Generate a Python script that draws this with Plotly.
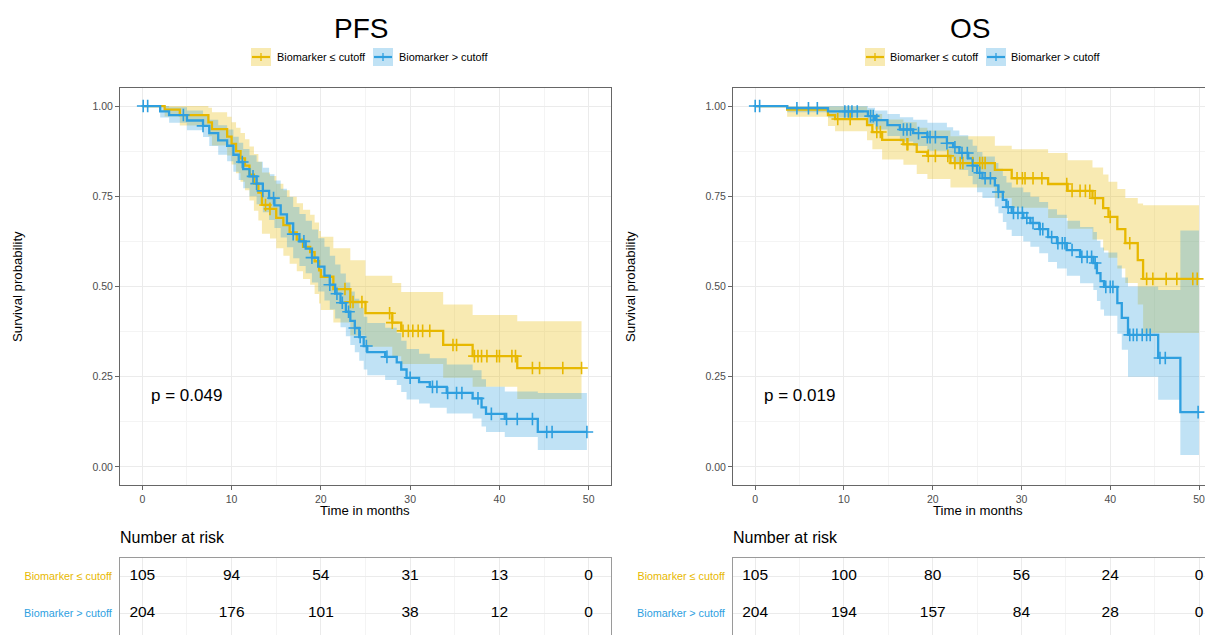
import plotly.graph_objects as go

# the page body has an 8px default margin, so the figure is 8px smaller and all
# reference pixel positions are shifted by -8
OFF = 8
W, H = 1213 - OFF, 635 - OFF
YEL = "#E7B800"
BLU = "#2E9FDF"
YEL_FILL = "rgba(231,184,0,0.30)"
BLU_FILL = "rgba(46,159,223,0.30)"
FONT = "Liberation Sans, Arial, sans-serif"

group_labels = ["Biomarker \u2264 cutoff", "Biomarker > cutoff"]
panel_titles = ["PFS", "OS"]
p_values = ["p = 0.049", "p = 0.019"]

# ---------------- PFS, Biomarker <= cutoff ----------------
pfs_low_t = [0, 2.5, 4.2, 7.4, 7.8, 9.5, 10.0, 10.5, 11.0, 11.5, 12.0, 12.5, 13.0, 13.4, 14.3, 15.0, 15.8, 16.5, 17.3, 18.0,
             18.8, 19.3, 19.8, 20.0, 21.4, 23.3, 25.0, 28.0, 29.0, 33.7, 37.0, 42.0]
pfs_low_s = [1.0, 0.99, 0.975, 0.955, 0.936, 0.915, 0.895, 0.875, 0.855, 0.835, 0.81, 0.785, 0.76, 0.726, 0.715, 0.69, 0.67, 0.65, 0.63, 0.61,
             0.595, 0.57, 0.545, 0.527, 0.493, 0.457, 0.426, 0.40, 0.377, 0.338, 0.307, 0.274]
pfs_low_lo = [1.0, 0.971, 0.946, 0.916, 0.891, 0.863, 0.838, 0.814, 0.79, 0.767, 0.738, 0.71, 0.683, 0.646, 0.633, 0.606, 0.585, 0.563, 0.542, 0.521,
              0.505, 0.479, 0.453, 0.435, 0.40, 0.364, 0.333, 0.307, 0.285, 0.247, 0.222, 0.188]
pfs_low_hi = [1.0, 1.0, 1.0, 0.995, 0.983, 0.97, 0.955, 0.94, 0.925, 0.908, 0.888, 0.867, 0.846, 0.816, 0.806, 0.785, 0.767, 0.749, 0.731, 0.713,
              0.699, 0.677, 0.654, 0.638, 0.606, 0.573, 0.53, 0.51, 0.485, 0.45, 0.421, 0.404]
pfs_low_end = 49.2
pfs_low_cens = [13.8, 14.3, 22.7, 23.3, 23.6, 24.6, 27.7, 28.0, 29.2, 29.8, 30.3, 30.9, 31.4, 32.2, 34.8, 35.2, 37.2, 37.6, 38.0, 38.6,
                39.7, 40.0, 41.4, 41.8, 43.7, 44.5, 47.1, 49.2]

# ---------------- PFS, Biomarker > cutoff ----------------
pfs_high_t = [0, 2.0, 3.0, 5.0, 6.8, 7.5, 8.5, 9.5, 10.2, 10.8, 11.3, 12.0, 12.8, 13.5, 14.2, 14.8, 15.5, 16.2, 16.9, 17.6,
              18.3, 19.0, 19.7, 20.4, 21.0, 21.6, 22.2, 22.8, 23.3, 23.8, 24.3, 24.8, 25.2, 27.2, 28.5, 29.0, 29.6, 31.0, 32.2, 34.1,
              37.0, 38.0, 38.5, 40.6, 44.3]
pfs_high_s = [1.0, 0.985, 0.975, 0.96, 0.945, 0.925, 0.905, 0.89, 0.865, 0.845, 0.825, 0.805, 0.785, 0.765, 0.745, 0.725, 0.70, 0.675, 0.645, 0.625,
              0.605, 0.58, 0.555, 0.53, 0.505, 0.48, 0.455, 0.43, 0.405, 0.385, 0.36, 0.335, 0.318, 0.305, 0.29, 0.27, 0.247, 0.235, 0.222, 0.205,
              0.19, 0.165, 0.147, 0.133, 0.097]
pfs_high_lo = [1.0, 0.968, 0.954, 0.933, 0.914, 0.889, 0.865, 0.847, 0.818, 0.795, 0.772, 0.75, 0.728, 0.706, 0.684, 0.662, 0.636, 0.609, 0.578, 0.557,
               0.537, 0.511, 0.486, 0.461, 0.436, 0.411, 0.387, 0.362, 0.338, 0.318, 0.294, 0.27, 0.254, 0.241, 0.227, 0.208, 0.187, 0.176, 0.164, 0.148,
               0.134, 0.112, 0.097, 0.083, 0.047]
pfs_high_hi = [1.0, 1.0, 0.997, 0.988, 0.977, 0.962, 0.947, 0.935, 0.915, 0.898, 0.881, 0.864, 0.846, 0.829, 0.811, 0.794, 0.771, 0.748, 0.72, 0.701,
               0.682, 0.658, 0.634, 0.61, 0.585, 0.561, 0.536, 0.511, 0.486, 0.466, 0.441, 0.416, 0.399, 0.386, 0.371, 0.35, 0.327, 0.314, 0.301, 0.284,
               0.268, 0.243, 0.222, 0.209, 0.205]
pfs_high_end = 49.8
pfs_high_cens = [0.1, 0.6, 4.6, 6.8, 11.2, 12.4, 12.8, 13.5, 14.7, 16.9, 18.1, 19.0, 21.0, 21.8, 22.4, 23.1, 23.8, 24.4, 25.1, 27.4,
                 30.0, 32.5, 33.0, 34.2, 35.2, 35.8, 37.6, 39.1, 40.8, 42.0, 43.7, 45.3, 45.9, 49.8]

# ---------------- OS, Biomarker <= cutoff ----------------
os_low_t = [0, 3.6, 8.2, 9.0, 12.6, 13.2, 14.3, 16.7, 18.2, 19.4, 22.0, 27.0, 28.9, 33.0, 35.2, 38.0, 39.2, 39.8, 40.8, 41.7, 43.1, 43.7]
os_low_s = [1.0, 0.99, 0.975, 0.964, 0.947, 0.928, 0.906, 0.894, 0.873, 0.862, 0.842, 0.823, 0.80, 0.784, 0.765, 0.745, 0.717, 0.693, 0.659, 0.62, 0.573, 0.521]
os_low_lo = [1.0, 0.97, 0.945, 0.93, 0.905, 0.88, 0.852, 0.837, 0.812, 0.798, 0.774, 0.745, 0.718, 0.69, 0.66, 0.63, 0.6, 0.58, 0.55, 0.51, 0.45, 0.371]
os_low_hi = [1.0, 1.0, 1.0, 0.999, 0.99, 0.978, 0.963, 0.955, 0.94, 0.932, 0.916, 0.89, 0.88, 0.87, 0.85, 0.83, 0.81, 0.79, 0.77, 0.745, 0.73, 0.725]
os_low_end = 50.0
os_low_cens = [9.3, 10.7, 13.7, 14.1, 17.1, 17.2, 19.5, 20.3, 21.7, 22.5, 23.1, 23.4, 24.5, 25.3, 25.6, 25.9, 29.5, 30.1, 30.4, 31.3,
               32.3, 35.1, 35.7, 36.6, 37.2, 37.7, 38.3, 40.0, 42.2, 44.1, 44.8, 46.3, 47.5, 49.3, 49.8]

# ---------------- OS, Biomarker > cutoff ----------------
os_high_t = [0, 3.6, 8.2, 12.7, 13.5, 14.9, 16.3, 17.8, 19.4, 21.6, 22.3, 23.0, 24.0, 24.5, 25.0, 25.6, 27.0, 27.4, 27.9, 28.3,
             28.9, 30.2, 31.0, 32.0, 33.0, 34.0, 35.1, 36.6, 38.1, 38.5, 38.9, 39.3, 40.8, 41.3, 42.0, 45.4, 47.9]
os_high_s = [1.0, 0.994, 0.985, 0.972, 0.961, 0.947, 0.935, 0.925, 0.914, 0.897, 0.886, 0.87, 0.855, 0.835, 0.815, 0.80, 0.78, 0.762, 0.74, 0.72,
             0.704, 0.69, 0.676, 0.659, 0.637, 0.62, 0.601, 0.582, 0.565, 0.537, 0.515, 0.499, 0.454, 0.413, 0.366, 0.302, 0.152]
os_high_lo = [1.0, 0.983, 0.968, 0.949, 0.935, 0.917, 0.902, 0.889, 0.876, 0.855, 0.842, 0.823, 0.806, 0.783, 0.761, 0.745, 0.722, 0.703, 0.679, 0.657,
              0.64, 0.625, 0.61, 0.592, 0.568, 0.55, 0.53, 0.509, 0.49, 0.46, 0.436, 0.419, 0.369, 0.325, 0.25, 0.186, 0.033]
os_high_hi = [1.0, 1.0, 1.0, 0.995, 0.988, 0.978, 0.969, 0.962, 0.954, 0.941, 0.932, 0.919, 0.907, 0.89, 0.873, 0.86, 0.842, 0.826, 0.806, 0.788,
              0.774, 0.761, 0.749, 0.734, 0.714, 0.699, 0.682, 0.665, 0.651, 0.627, 0.608, 0.594, 0.558, 0.525, 0.5, 0.49, 0.655]
os_high_end = 50.0
os_high_cens = [0.0, 0.5, 4.7, 6.0, 7.0, 10.1, 10.5, 10.9, 11.5, 13.0, 13.3, 13.7, 16.7, 17.1, 17.5, 18.4, 19.4, 19.7, 20.3, 21.6,
                22.5, 23.3, 23.9, 24.5, 25.3, 25.9, 26.5, 27.4, 28.5, 29.1, 29.6, 30.1, 30.6, 31.3, 32.1, 32.4, 33.4, 34.1, 34.6, 34.9,
                35.7, 36.8, 37.4, 37.9, 38.3, 39.5, 40.0, 40.3, 42.2, 42.6, 43.0, 43.6, 44.1, 44.5, 45.6, 46.2, 49.9]

# ---------------- Number at risk ----------------
risk_times = [0, 10, 20, 30, 40, 50]
pfs_risk_low = [105, 94, 54, 31, 13, 0]
pfs_risk_high = [204, 176, 101, 38, 12, 0]
os_risk_low = [105, 100, 80, 56, 24, 0]
os_risk_high = [204, 194, 157, 84, 28, 0]

x_ticks = [0, 10, 20, 30, 40, 50]
y_ticks = [0.0, 0.25, 0.5, 0.75, 1.0]
y_tick_text = ["0.00", "0.25", "0.50", "0.75", "1.00"]


def step_xy(t, s, t_end):
    xs, ys = [], []
    for i in range(len(t)):
        t_next = t[i + 1] if i + 1 < len(t) else t_end
        xs += [t[i], t_next]
        ys += [s[i], s[i]]
    return xs, ys


def surv_at(t, s, x):
    v = s[0]
    for ti, si in zip(t, s):
        if ti <= x:
            v = si
    return v


def px(x):
    return (x - OFF) / W


def py(y):
    return 1 - (y - OFF) / H


fig = go.Figure()

panels = [
    dict(xa="x", ya="y", xt="x3", yt="y3",
         groups=[(pfs_low_t, pfs_low_s, pfs_low_lo, pfs_low_hi, pfs_low_end, pfs_low_cens, YEL, YEL_FILL),
                 (pfs_high_t, pfs_high_s, pfs_high_lo, pfs_high_hi, pfs_high_end, pfs_high_cens, BLU, BLU_FILL)],
         risk=[pfs_risk_low, pfs_risk_high]),
    dict(xa="x2", ya="y2", xt="x4", yt="y4",
         groups=[(os_low_t, os_low_s, os_low_lo, os_low_hi, os_low_end, os_low_cens, YEL, YEL_FILL),
                 (os_high_t, os_high_s, os_high_lo, os_high_hi, os_high_end, os_high_cens, BLU, BLU_FILL)],
         risk=[os_risk_low, os_risk_high]),
]

for p in panels:
    for (t, s, lo, hi, te, cens, col, fcol) in p["groups"]:
        xh, yh = step_xy(t, hi, te)
        xl, yl = step_xy(t, lo, te)
        fig.add_trace(go.Scatter(x=xh + xl[::-1], y=yh + yl[::-1], fill="toself", fillcolor=fcol,
                                 line=dict(width=0), mode="lines", hoverinfo="skip", showlegend=False,
                                 xaxis=p["xa"], yaxis=p["ya"]))
    for (t, s, lo, hi, te, cens, col, fcol) in p["groups"]:
        xs, ys = step_xy(t, s, te)
        fig.add_trace(go.Scatter(x=xs, y=ys, mode="lines", line=dict(color=col, width=2.3),
                                 showlegend=False, xaxis=p["xa"], yaxis=p["ya"]))
    for (t, s, lo, hi, te, cens, col, fcol) in p["groups"]:
        fig.add_trace(go.Scatter(x=cens, y=[surv_at(t, s, c) for c in cens], mode="markers",
                                 marker=dict(symbol="cross-thin", size=9, line=dict(color=col, width=1.6)),
                                 showlegend=False, xaxis=p["xa"], yaxis=p["ya"]))
    for row, vals in zip([2, 1], p["risk"]):
        fig.add_trace(go.Scatter(x=risk_times, y=[row] * len(risk_times), mode="text",
                                 text=[str(v) for v in vals],
                                 textfont=dict(size=15.5, color="#000000", family=FONT),
                                 showlegend=False, xaxis=p["xt"], yaxis=p["yt"]))

GRID = "#EBEBEB"
MINOR = "#F4F4F4"
BORDER = "#666666"
TBORDER = "#9A9A9A"

main_x = dict(range=[-2.5, 52.5], tickmode="array", tickvals=x_ticks, showgrid=True, gridcolor=GRID, gridwidth=1.1,
              minor=dict(tickmode="array", tickvals=[5, 15, 25, 35, 45], showgrid=True, gridcolor=MINOR, gridwidth=0.8, ticks=""),
              showline=True, mirror=True, linecolor=BORDER, linewidth=1, ticks="outside", ticklen=4, tickcolor=BORDER,
              tickfont=dict(size=10.5, color="#4D4D4D", family=FONT), zeroline=False)
main_y = dict(range=[-0.05, 1.05], tickmode="array", tickvals=y_ticks, ticktext=y_tick_text, showgrid=True, gridcolor=GRID,
              gridwidth=1.1,
              minor=dict(tickmode="array", tickvals=[0.125, 0.375, 0.625, 0.875], showgrid=True, gridcolor=MINOR, gridwidth=0.8, ticks=""),
              showline=True, mirror=True, linecolor=BORDER, linewidth=1, ticks="outside", ticklen=4, tickcolor=BORDER,
              tickfont=dict(size=10.5, color="#4D4D4D", family=FONT), zeroline=False)

tab_top = 558
tab_range = [1 - (635 - 613) / 37.0, 2 + (576 - tab_top) / 37.0]


def tab_y(colors_html, mirror):
    return dict(range=tab_range, tickmode="array", tickvals=[2, 1], ticktext=colors_html, showgrid=True, gridcolor=GRID,
                gridwidth=1.1, showline=True, mirror=mirror, linecolor=TBORDER, linewidth=1, ticks="",
                ticklabelstandoff=5, tickfont=dict(size=10.8, family=FONT), zeroline=False, fixedrange=True)


tab_x = dict(range=[-2.5, 52.5], tickmode="array", tickvals=x_ticks, showgrid=True, gridcolor=GRID, gridwidth=1.1,
             minor=dict(tickmode="array", tickvals=[5, 15, 25, 35, 45], showgrid=True, gridcolor=MINOR, gridwidth=0.8, ticks=""),
             showticklabels=False, ticks="", showline=True, side="top", linecolor=TBORDER, linewidth=1, zeroline=False)

row_labels = ['<span style="color:%s">%s</span>' % (YEL, group_labels[0]),
              '<span style="color:%s">%s</span>' % (BLU, group_labels[1])]

os_right = (1213 - 755) / 8.88  # visible right end of the (cropped) OS panel

fig.update_layout(
    width=W, height=H, margin=dict(l=0, r=0, t=0, b=0), plot_bgcolor="white", paper_bgcolor="white",
    font=dict(family=FONT, color="#000000"), showlegend=False,
    xaxis=dict(main_x, domain=[px(120), px(611)], anchor="y"),
    yaxis=dict(main_y, domain=[py(485), py(88)], anchor="x"),
    xaxis2=dict(main_x, domain=[px(733), 1.0], anchor="y2", range=[-2.5, os_right]),
    yaxis2=dict(main_y, domain=[py(485), py(88)], anchor="x2", mirror=False),
    xaxis3=dict(tab_x, domain=[px(120), px(611)], anchor="y3"),
    yaxis3=dict(tab_y(row_labels, True), domain=[0, py(tab_top)], anchor="x3"),
    xaxis4=dict(tab_x, domain=[px(733), 1.0], anchor="y4", range=[-2.5, os_right]),
    yaxis4=dict(tab_y(row_labels, False), domain=[0, py(tab_top)], anchor="x4"),
)

ann = []
shapes = []
for i, (xc, tc, x0, xlab) in enumerate([(365, 361, 120, 17), (978, 970, 733, 630)]):
    ann.append(dict(text=panel_titles[i], x=px(tc), y=py(28), xref="paper", yref="paper", showarrow=False,
                    font=dict(size=28, family=FONT, color="#000000"), xanchor="center", yanchor="middle"))
    ann.append(dict(text="Survival probability", x=px(xlab), y=py(287), xref="paper", yref="paper", showarrow=False,
                    textangle=-90, font=dict(size=13.2, family=FONT), xanchor="center", yanchor="middle"))
    ann.append(dict(text="Time in months", x=px(xc), y=py(510), xref="paper", yref="paper",
                    showarrow=False, font=dict(size=13.2, family=FONT), xanchor="center", yanchor="middle"))
    ann.append(dict(text="Number at risk", x=px(x0 - 2), y=py(537), xref="paper", yref="paper", showarrow=False,
                    font=dict(size=16, family=FONT), xanchor="left", yanchor="middle"))
    xa = "x" if i == 0 else "x2"
    ya = "y" if i == 0 else "y2"
    ann.append(dict(text=p_values[i], x=0.75, y=0.197, xref=xa, yref=ya, showarrow=False,
                    font=dict(size=17, family=FONT), xanchor="left", yanchor="middle"))

legend_keys = [(251, 278, 0), (373, 400, 1), (865, 891, 0), (986, 1012, 1)]
cols = [YEL, BLU]
fcols = [YEL_FILL, BLU_FILL]
for kx, tx, g in legend_keys:
    shapes.append(dict(type="rect", xref="paper", yref="paper", x0=px(kx), x1=px(kx + 20), y0=py(66), y1=py(48),
                       fillcolor=fcols[g], line=dict(width=0)))
    shapes.append(dict(type="line", xref="paper", yref="paper", x0=px(kx + 1), x1=px(kx + 19), y0=py(57), y1=py(57),
                       line=dict(color=cols[g], width=2.2)))
    shapes.append(dict(type="line", xref="paper", yref="paper", x0=px(kx + 10), x1=px(kx + 10), y0=py(53), y1=py(61),
                       line=dict(color=cols[g], width=1.3)))
    ann.append(dict(text=group_labels[g], x=px(tx - 3), y=py(57), xref="paper", yref="paper", showarrow=False,
                    font=dict(size=10.9, family=FONT), xanchor="left", yanchor="middle"))

fig.update_layout(annotations=ann, shapes=shapes)
fig.write_html("out.html")
